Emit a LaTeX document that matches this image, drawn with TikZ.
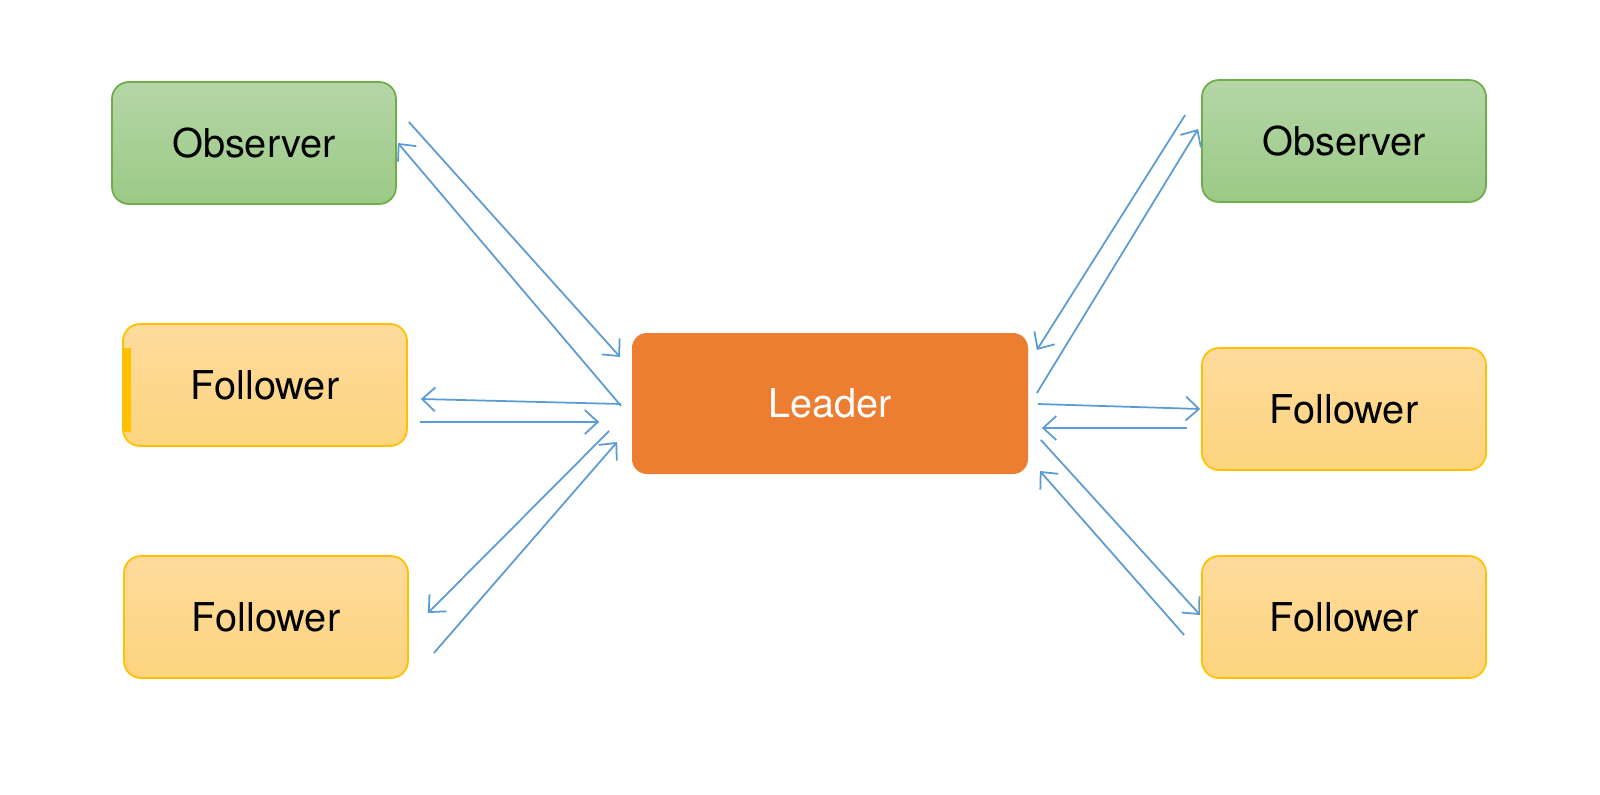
\documentclass[tikz,border=0pt]{standalone}
\usepackage{fontspec}
\setmainfont{TeX Gyre Heros}
\usepackage{xcolor}
\usepackage{tikz}
\usetikzlibrary{arrows.meta,positioning}
\definecolor{obstop}{HTML}{B5D6A7}
\definecolor{obsbot}{HTML}{9BCA85}
\definecolor{obsline}{HTML}{6FAD4A}
\definecolor{foltop}{HTML}{FEDB9C}
\definecolor{folbot}{HTML}{FDD47E}
\definecolor{folline}{HTML}{FFC000}
\definecolor{leadfill}{HTML}{ED7D31}
\definecolor{msgline}{HTML}{5B9BD5}
\tikzset{
  box/.style={rectangle, rounded corners=1.7mm, minimum width=2.84cm,
              minimum height=1.22cm, line width=0.5pt,
              font=\fontsize{11.3}{13}\selectfont},
  observer/.style={box, draw=obsline, top color=obstop, bottom color=obsbot},
  follower/.style={box, draw=folline, top color=foltop, bottom color=folbot},
  leader/.style={box, fill=leadfill, text=white, rounded corners=1.5mm,
                 minimum width=3.96cm, minimum height=1.41cm},
  msg/.style={draw=msgline, line width=0.5pt,
              -{Straight Barb[length=1.3mm, width=2.4mm]}},
}

\begin{document}
\begin{tikzpicture}
  \useasboundingbox (0,0) rectangle (16,-7.94);
  \node[leader]   (lead)  at (8.30,-4.035) {Leader};
  \node[observer] (obsL)  at (2.54,-1.43)  {Observer};
  \node[follower] (folL1) at (2.65,-3.85)  {Follower};
  \node[follower] (folL2) at (2.66,-6.17)  {Follower};
  \node[observer] (obsR)  at (13.44,-1.41) {Observer};
  \node[follower] (folR1) at (13.44,-4.09) {Follower};
  \node[follower] (folR2) at (13.44,-6.17) {Follower};
  \fill[folline] (1.235,-3.48) rectangle (1.31,-4.32);
  % left side
  \draw[msg] ([shift={(0.12,0.21)}]obsL.east)    -- ([shift={(-0.11,0.465)}]lead.west);
  \draw[msg] ([shift={(-0.10,-0.025)}]lead.west) -- ([shift={(0.01,0)}]obsL.east);
  \draw[msg] ([shift={(-0.10,-0.005)}]lead.west) -- ([shift={(0.13,-0.14)}]folL1.east);
  \draw[msg] ([shift={(0.12,-0.37)}]folL1.east)  -- ([shift={(-0.32,-0.185)}]lead.west);
  \draw[msg] ([shift={(-0.22,-0.275)}]lead.west) -- ([shift={(0.19,0.04)}]folL2.east);
  \draw[msg] ([shift={(0.25,-0.36)}]folL2.east)  -- ([shift={(-0.14,-0.385)}]lead.west);
  % right side
  \draw[msg] ([shift={(0.08,0.105)}]lead.east)   -- ([shift={(-0.03,0.12)}]obsR.west);
  \draw[msg] ([shift={(-0.16,0.26)}]obsR.west)   -- ([shift={(0.08,0.535)}]lead.east);
  \draw[msg] ([shift={(0.09,-0.005)}]lead.east)  -- ([shift={(-0.01,0)}]folR1.west);
  \draw[msg] ([shift={(-0.14,-0.19)}]folR1.west) -- ([shift={(0.13,-0.245)}]lead.east);
  \draw[msg] ([shift={(0.12,-0.365)}]lead.east)  -- ([shift={(-0.01,0.02)}]folR2.west);
  \draw[msg] ([shift={(-0.17,-0.18)}]folR2.west) -- ([shift={(0.11,-0.675)}]lead.east);
\end{tikzpicture}
\end{document}
